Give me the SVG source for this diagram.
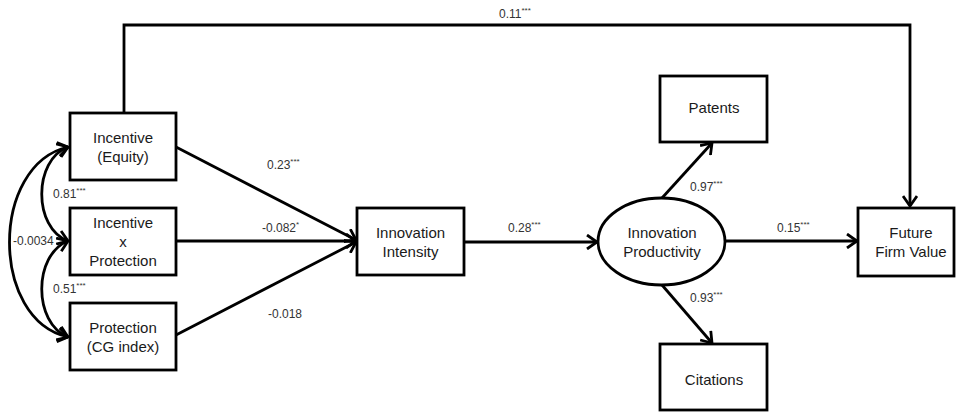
<svg xmlns="http://www.w3.org/2000/svg" width="956" height="412" viewBox="0 0 956 412">
<style>
.box{fill:#fff;stroke:#000;stroke-width:2.8}
.t{font-family:"Liberation Sans",Arial,sans-serif;font-size:15px;fill:#1a1a1a;text-anchor:middle}
.l{font-family:"Liberation Sans",Arial,sans-serif;font-size:12px;fill:#333}
.s{font-size:8px}
.c{fill:none;stroke:#000;stroke-width:2.8}
</style>
<defs>
<marker id="arr" viewBox="0 0 12 16" refX="11" refY="8" markerWidth="12" markerHeight="16" markerUnits="userSpaceOnUse" orient="auto-start-reverse">
<path d="M1,1 L11,8 L1,15" fill="none" stroke="#000" stroke-width="2.8"/>
</marker>
</defs>
<rect width="956" height="412" fill="#fff"/>
<g id="connectors">
<polyline class="c" points="124,113 124,25 910,25 910,206" marker-end="url(#arr)"/>
<line class="c" x1="176" y1="147" x2="356" y2="240" marker-end="url(#arr)"/>
<line class="c" x1="176" y1="241" x2="356" y2="241" marker-end="url(#arr)"/>
<line class="c" x1="176" y1="335" x2="356" y2="242" marker-end="url(#arr)"/>
<line class="c" x1="464" y1="242" x2="597" y2="242" marker-end="url(#arr)"/>
<line class="c" x1="662" y1="198" x2="712" y2="143" marker-end="url(#arr)"/>
<line class="c" x1="662" y1="285" x2="712" y2="343" marker-end="url(#arr)"/>
<line class="c" x1="725" y1="241" x2="857" y2="241" marker-end="url(#arr)"/>
<path class="c" d="M68,147 C -10,165 -10,320 68,337" marker-start="url(#arr)" marker-end="url(#arr)"/>
<path class="c" d="M68,147 C 33,160 33,228 68,241" marker-start="url(#arr)" marker-end="url(#arr)"/>
<path class="c" d="M68,241 C 33,255 33,323 68,337" marker-start="url(#arr)" marker-end="url(#arr)"/>
<text class="l" x="499" y="18">0.11<tspan class="s" dy="-5">***</tspan></text>
<text class="l" x="267" y="169">0.23<tspan class="s" dy="-5">***</tspan></text>
<text class="l" x="262" y="232">-0.082<tspan class="s" dy="-5">*</tspan></text>
<text class="l" x="268" y="318">-0.018</text>
<text class="l" x="508" y="232">0.28<tspan class="s" dy="-5">***</tspan></text>
<text class="l" x="690" y="191">0.97<tspan class="s" dy="-5">***</tspan></text>
<text class="l" x="690" y="302">0.93<tspan class="s" dy="-5">***</tspan></text>
<text class="l" x="777" y="232">0.15<tspan class="s" dy="-5">***</tspan></text>
<text class="l" x="53" y="198">0.81<tspan class="s" dy="-5">***</tspan></text>
<text class="l" x="13" y="245">-0.0034</text>
<text class="l" x="53" y="293">0.51<tspan class="s" dy="-5">***</tspan></text>
</g>
<g id="incentive-equity">
<rect class="box" x="70" y="113" width="106" height="67"/>
<text class="t" x="123" y="143">Incentive</text>
<text class="t" x="123" y="162">(Equity)</text>
</g>
<g id="incentive-x-protection">
<rect class="box" x="70" y="208" width="106" height="67"/>
<text class="t" x="123" y="228">Incentive</text>
<text class="t" x="123" y="247">x</text>
<text class="t" x="123" y="266">Protection</text>
</g>
<g id="protection">
<rect class="box" x="70" y="303" width="106" height="67"/>
<text class="t" x="123" y="333">Protection</text>
<text class="t" x="123" y="352">(CG index)</text>
</g>
<g id="innovation-intensity">
<rect class="box" x="357" y="208" width="107" height="67"/>
<text class="t" x="410.5" y="238">Innovation</text>
<text class="t" x="410.5" y="257">Intensity</text>
</g>
<g id="innovation-productivity">
<ellipse class="box" cx="661.5" cy="241.5" rx="63.5" ry="43.5"/>
<text class="t" x="662" y="238">Innovation</text>
<text class="t" x="662" y="257">Productivity</text>
</g>
<g id="patents">
<rect class="box" x="660" y="76" width="107" height="66"/>
<text class="t" x="714" y="113">Patents</text>
</g>
<g id="citations">
<rect class="box" x="660" y="344" width="107" height="66"/>
<text class="t" x="714" y="385">Citations</text>
</g>
<g id="future-firm-value">
<rect class="box" x="858" y="208" width="96" height="68"/>
<text class="t" x="911" y="238">Future</text>
<text class="t" x="911" y="257">Firm Value</text>
</g>
</svg>
